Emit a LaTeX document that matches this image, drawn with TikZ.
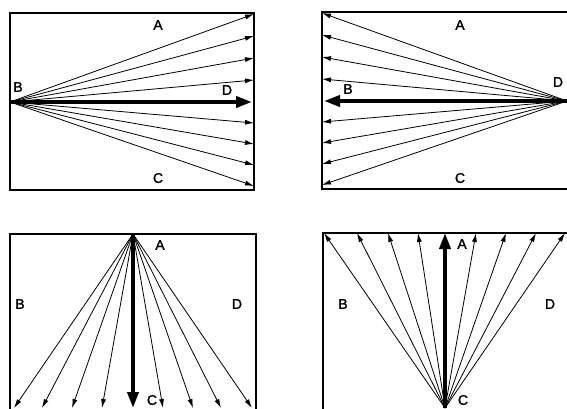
\documentclass[tikz,border=0pt]{standalone}
\usepackage{fontspec}
\setmainfont{Liberation Sans}
\newfontfamily\lblfont[FakeBold=1.5]{Liberation Sans}
\usetikzlibrary{arrows.meta}
\begin{document}
\begin{tikzpicture}[x=1pt,y=-1pt,
  ray/.style={line width=0.8pt,-{Latex[length=9pt,width=5pt]}},
  mainray/.style={line width=3.8pt,-{Triangle[length=16pt,width=11pt]}},
  frame/.style={line width=1.2pt},
  lbl/.style={font=\lblfont\fontsize{14}{14}\selectfont,inner sep=0pt}]
\useasboundingbox (0,0) rectangle (567,408);
\begin{scope}
\clip (0,0) rectangle (567,408);
% Panel 1
\draw[frame] (10,13) rectangle (254,190);
\coordinate (B1) at (10,102);
\foreach \y [count=\i] in {14,36,58,80,123,144,165,186}
  {\coordinate (e1\i) at (254,\y); \draw[ray] (B1) -- (e1\i);}
\coordinate (d1) at (252,102);
\draw[mainray] (B1) -- (d1);
\node[lbl] (A1) at (158,25) {A};
\node[lbl] (LB1) at (18,87) {B};
\node[lbl] (LD1) at (227,90) {D};
\node[lbl] (C1) at (158,178) {C};
% Panel 2
\draw[frame] (570,12) -- (322,12) -- (322,189) -- (570,189);
\coordinate (D2) at (567,101);
\foreach \y [count=\i] in {13,35,57,79,122,143,164,185}
  {\coordinate (e2\i) at (322,\y); \draw[ray] (D2) -- (e2\i);}
\coordinate (b2) at (324,101);
\draw[mainray] (D2) -- (b2);
\node[lbl] (A2) at (460,25) {A};
\node[lbl] (LB2) at (348,89) {B};
\node[lbl] (LD2) at (558,82) {D};
\node[lbl] (C2) at (460,178) {C};
% Panel 3
\draw[frame] (10,410) -- (10,234) -- (256,234) -- (256,410);
\coordinate (A3) at (133,234);
\foreach \x [count=\i] in {14,42,72,102,163,193,221,252}
  {\coordinate (e3\i) at (\x,408); \draw[ray] (A3) -- (e3\i);}
\coordinate (c3) at (133,408);
\draw[mainray] (A3) -- (c3);
\node[lbl] (LA3) at (160,245) {A};
\node[lbl] (LB3) at (20,304) {B};
\node[lbl] (LD3) at (237,304) {D};
\node[lbl] (LC3) at (152,400) {C};
% Panel 4
\draw[frame] (323,410) -- (323,233) -- (570,233);
\coordinate (C4) at (445,408);
\foreach \x [count=\i] in {324,357,388,418,476,506,536,565}
  {\coordinate (e4\i) at (\x,233); \draw[ray] (C4) -- (e4\i);}
\coordinate (a4) at (445,233);
\draw[mainray] (C4) -- (a4);
\node[lbl] (LA4) at (462,244) {A};
\node[lbl] (LB4) at (343,304) {B};
\node[lbl] (LD4) at (550,304) {D};
\node[lbl] (LC4) at (463,400) {C};
\end{scope}
\end{tikzpicture}
\end{document}
